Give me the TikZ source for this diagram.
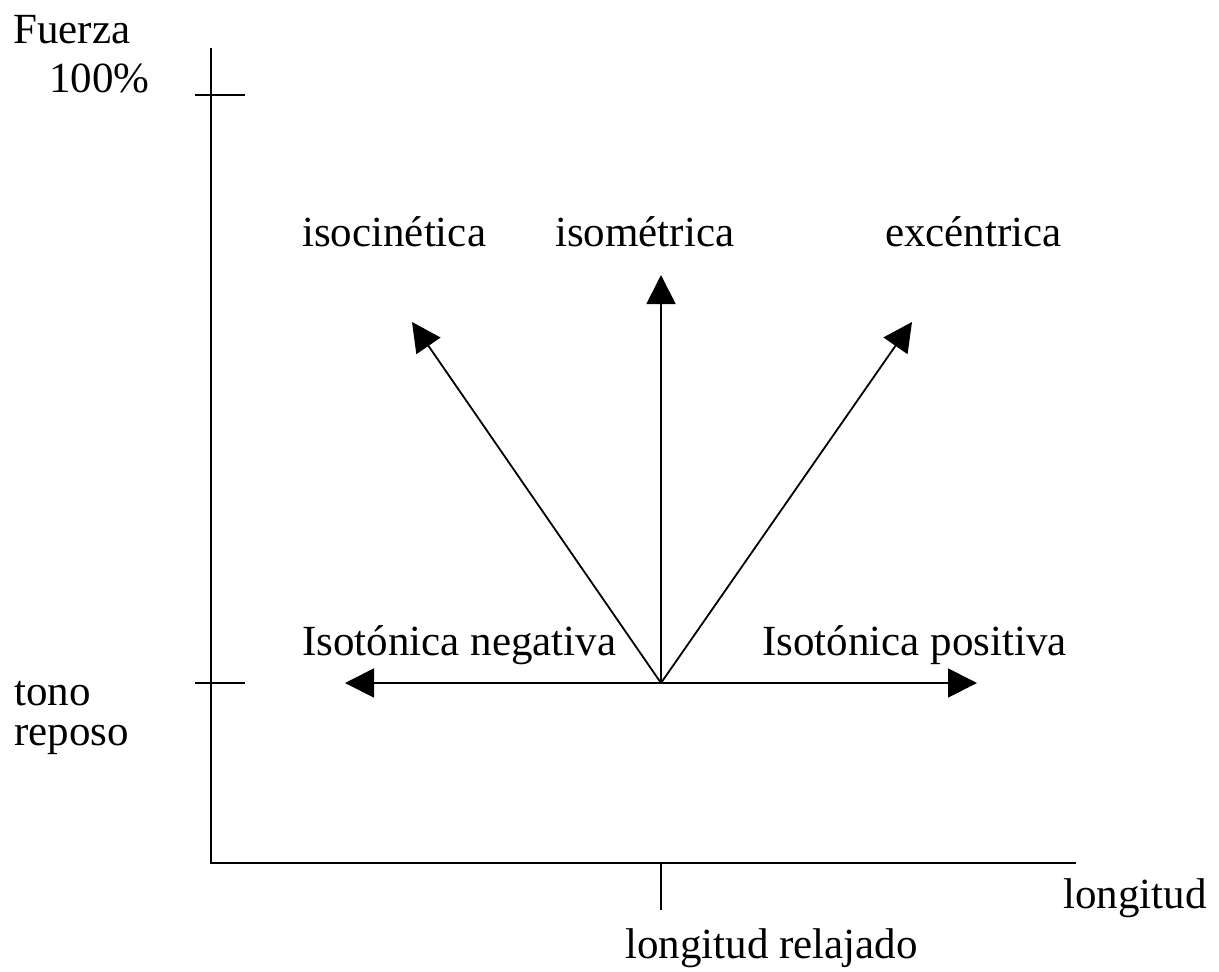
\documentclass[tikz,border=0pt]{standalone}
\usepackage{fontspec}
\setmainfont{Liberation Serif}
\usetikzlibrary{arrows.meta}

\begin{document}
\begin{tikzpicture}[
  x=1pt, y=-1pt,
  eje/.style={draw=black, line width=1.8pt},
  flecha/.style={draw=black, line width=1.8pt, -{Triangle[length=29pt, width=29pt]}},
  etiqueta/.style={inner sep=0pt, anchor=base west, align=left, font=\fontsize{43}{40}\selectfont}
]
  \useasboundingbox (0,0) rectangle (1219,972);

  % ejes
  \coordinate (ytop) at (211,48);
  \coordinate (orig) at (211,863);
  \coordinate (xend) at (1076,863);
  \draw [eje] (ytop) -- (orig) -- (xend);

  % marcas
  \coordinate (m100a) at (195,95);
  \coordinate (m100b) at (245,95);
  \coordinate (mtonoa) at (195,683);
  \coordinate (mtonob) at (245,683);
  \coordinate (mrela) at (661,863);
  \coordinate (mrelb) at (661,910);
  \draw [eje] (m100a) -- (m100b);
  \draw [eje] (mtonoa) -- (mtonob);
  \draw [eje] (mrela) -- (mrelb);

  % flechas
  \coordinate (centro) at (661,683);
  \coordinate (pisocin) at (412,322);
  \coordinate (pisomet) at (661,275);
  \coordinate (pexcen) at (912,322);
  \coordinate (pneg) at (345,683);
  \coordinate (ppos) at (977,683);
  \draw [flecha] (centro) -- (pisocin);
  \draw [flecha] (centro) -- (pisomet);
  \draw [flecha] (centro) -- (pexcen);
  \draw [flecha] (centro) -- (pneg);
  \draw [flecha] (centro) -- (ppos);

  % textos
  \node [etiqueta] (fuerza) at (13,43) {Fuerza};
  \node [etiqueta] (cien) at (49,92) {100\%};
  \node [etiqueta] (tono) at (14,745) {tono\\reposo};
  \node [etiqueta] (isocin) at (302,246) {isocinética};
  \node [etiqueta] (isomet) at (555,246) {isométrica};
  \node [etiqueta] (excen) at (885,246) {excéntrica};
  \node [etiqueta] (neg) at (302,655) {Isotónica negativa};
  \node [etiqueta] (pos) at (762,655) {Isotónica positiva};
  \node [etiqueta] (longitud) at (1063,908) {longitud};
  \node [etiqueta] (relajado) at (625,958) {longitud relajado};
\end{tikzpicture}
\end{document}
